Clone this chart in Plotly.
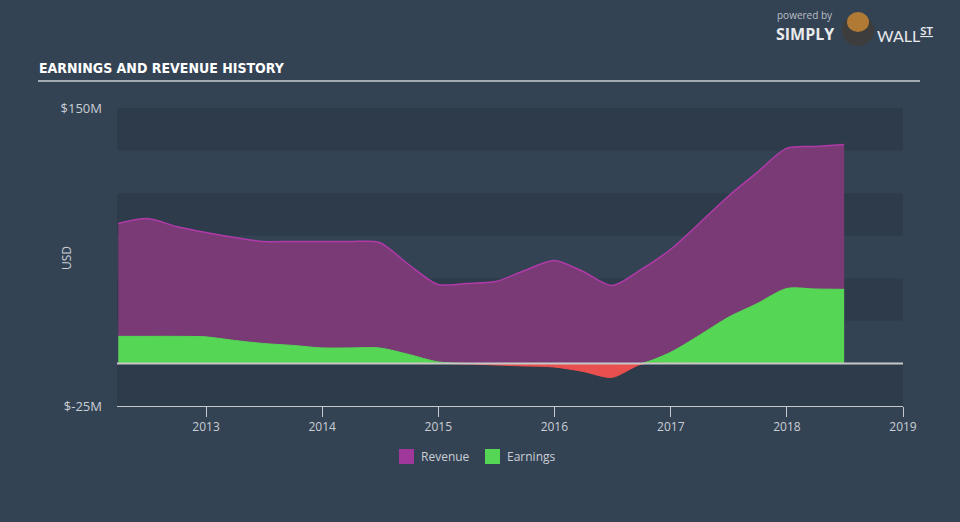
import plotly.graph_objects as go

dates = ["2012-03-31", "2012-06-30", "2012-09-30", "2012-12-31",
         "2013-03-31", "2013-06-30", "2013-09-30", "2013-12-31",
         "2014-03-31", "2014-06-30", "2014-09-30", "2014-12-31",
         "2015-03-31", "2015-06-30", "2015-09-30", "2015-12-31",
         "2016-03-31", "2016-06-30", "2016-09-30", "2016-12-31",
         "2017-03-31", "2017-06-30", "2017-09-30", "2017-12-31",
         "2018-03-31", "2018-06-30"]
revenue = [82.2, 85.1, 80.4, 76.9, 74.0, 71.6, 71.6, 71.6, 71.6, 71.0,
           58.1, 46.4, 47.0, 48.1, 54.6, 60.5, 54.0, 45.8, 55.2, 66.9,
           82.2, 98.0, 112.2, 126.3, 127.4, 128.6]
earnings = [15.9, 15.9, 15.9, 15.6, 13.5, 11.7, 10.6, 9.1, 9.1, 9.1,
            5.3, 0.9, -0.3, -0.9, -1.5, -2.1, -4.7, -8.2, -0.5, 6.5,
            16.4, 27.0, 35.2, 44.0, 43.7, 43.5]
year_ticks = ["2013-01-01", "2014-01-01", "2015-01-01", "2016-01-01",
              "2017-01-01", "2018-01-01", "2019-01-01"]
year_labels = ["2013", "2014", "2015", "2016", "2017", "2018", "2019"]
y_ticks = [-25, 150]
y_labels = ["$-25M", "$150M"]
bands = [(-25, 0), (25, 50), (75, 100), (125, 150)]
legend_names = ["Revenue", "Earnings"]
legend_colors = ["#a0379a", "#55d655"]

BG = "#344354"
BAND = "#2e3b4b"
TXT = "#c9ced4"
FONT = "Open Sans"

earn_pos = [max(v, 0) for v in earnings]
earn_neg = [min(v, 0) for v in earnings]

fig = go.Figure()
fig.add_trace(go.Scatter(x=dates, y=revenue, mode="lines", line=dict(color="#b03aa8", width=1.5, shape="spline", smoothing=0.8),
                         fill="tozeroy", fillcolor="#7a3a76", showlegend=False, hoverinfo="skip"))
fig.add_trace(go.Scatter(x=dates, y=earn_pos, mode="lines", line=dict(color="#55d655", width=1, shape="spline", smoothing=0.8),
                         fill="tozeroy", fillcolor="#55d655", showlegend=False, hoverinfo="skip"))
fig.add_trace(go.Scatter(x=dates, y=earn_neg, mode="lines", line=dict(color="#e84f4f", width=1, shape="spline", smoothing=0.8),
                         fill="tozeroy", fillcolor="#e84f4f", showlegend=False, hoverinfo="skip"))


def px(x):
    return (x - 117) / 786


def py(y):
    return (522 - 116 - y) / 298


shapes = []
for lo, hi in bands:
    shapes.append(dict(type="rect", xref="paper", yref="y", x0=0, x1=1, y0=lo, y1=hi,
                       fillcolor=BAND, line=dict(width=0), layer="below"))
# zero line
shapes.append(dict(type="line", xref="paper", yref="y", x0=0, x1=1, y0=0, y1=0,
                   line=dict(color="#c8c8c8", width=2), layer="above"))
# title underline
shapes.append(dict(type="line", xref="paper", yref="paper", x0=px(38), x1=px(920),
                   y0=py(81), y1=py(81), line=dict(color="#a3abb3", width=2)))
# logo circle placeholder
shapes.append(dict(type="circle", xref="paper", yref="paper",
                   x0=px(842), x1=px(874), y0=py(46), y1=py(14),
                   fillcolor="#3d3d3d", line=dict(width=0)))
shapes.append(dict(type="circle", xref="paper", yref="paper",
                   x0=px(847), x1=px(869), y0=py(32), y1=py(12),
                   fillcolor="#b07a35", line=dict(width=0)))

annotations = [
    dict(text="<b>EARNINGS AND REVENUE HISTORY</b>", x=px(37), y=py(68), xref="paper", yref="paper",
         xanchor="left", yanchor="middle", showarrow=False,
         font=dict(family="DejaVu Sans Condensed, Roboto, sans-serif", size=14, color="#ffffff")),
    dict(text="USD", x=px(66), y=py(258), xref="paper", yref="paper", textangle=-90,
         xanchor="center", yanchor="middle", showarrow=False,
         font=dict(family=FONT, size=12, color=TXT)),
    dict(text="powered by", x=px(776), y=py(15), xref="paper", yref="paper",
         xanchor="left", yanchor="middle", showarrow=False, borderpad=0,
         font=dict(family=FONT, size=10, color="#b8bec5")),
    dict(text="<b>SIMPLY</b>", x=px(775), y=py(34), xref="paper", yref="paper",
         xanchor="left", yanchor="middle", showarrow=False, borderpad=0,
         font=dict(family=FONT, size=16, color="#e8eaec")),
    dict(text="WALL<u><b><sup>ST</sup></b></u>", x=px(876), y=py(34), xref="paper", yref="paper",
         xanchor="left", yanchor="middle", showarrow=False, borderpad=0,
         font=dict(family="Lato", size=16, color="#e8eaec")),
]

# manual legend
leg_x = [399, 485]
for name, col, lx in zip(legend_names, legend_colors, leg_x):
    shapes.append(dict(type="rect", xref="paper", yref="paper", x0=px(lx), x1=px(lx + 15),
                       y0=py(464), y1=py(449), fillcolor=col, line=dict(width=0)))
    annotations.append(dict(text=name, x=px(lx + 20), y=py(456.5), xref="paper", yref="paper",
                            xanchor="left", yanchor="middle", showarrow=False,
                            font=dict(family=FONT, size=12, color=TXT)))

fig.update_layout(
    width=960, height=522,
    margin=dict(l=117, r=57, t=108, b=116),
    paper_bgcolor=BG, plot_bgcolor=BG,
    font=dict(family=FONT, color=TXT, size=12),
    shapes=shapes, annotations=annotations,
    showlegend=False,
    xaxis=dict(type="date", range=["2012-03-27", "2019-01-01"], tickvals=year_ticks, ticktext=year_labels,
               showgrid=False, zeroline=False, showline=True, linecolor="#c3c9cf", linewidth=1,
               ticks="outside", ticklen=10, tickcolor="#c3c9cf", tickfont=dict(size=12, color=TXT),
               fixedrange=True),
    yaxis=dict(range=[-25, 150], tickvals=y_ticks, ticktext=y_labels, showgrid=False, zeroline=False,
               showline=False, ticks="", tickfont=dict(size=13, color=TXT), ticklabelstandoff=14,
               fixedrange=True),
)

fig.write_html("out.html")
